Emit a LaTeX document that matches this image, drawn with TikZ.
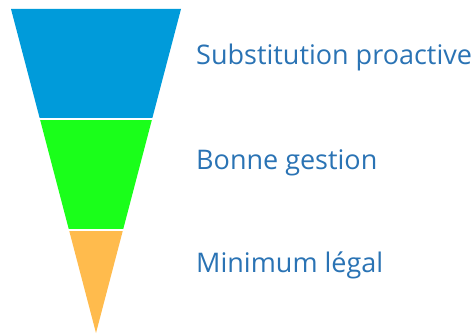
\documentclass[tikz,border=0pt]{standalone}
\usepackage{fontspec}
\setmainfont{Open Sans}
\usepackage{xcolor}
\definecolor{levelblue}{HTML}{009BDA}
\definecolor{levelgreen}{HTML}{1AFF1A}
\definecolor{levelorange}{HTML}{FFBB4D}
\definecolor{labelblue}{HTML}{2A73B4}

\begin{document}
\begin{tikzpicture}[
  x=1pt, y=-1pt,
  band/.style={draw=none},
  gap/.style={draw=white, line width=2.2pt},
  level/.style={anchor=base west, inner sep=0pt, text=labelblue,
    font=\fontsize{27}{31}\selectfont}
]
  \useasboundingbox (0,0) rectangle (476,334);

  % Funnel bands
  \fill[band, levelblue] (11,9) -- (181,9) -- (152.1,119) -- (39.9,119) -- cycle;
  \fill[band, levelgreen] (39.9,119) -- (152.1,119) -- (123,230) -- (69,230) -- cycle;
  \fill[band, levelorange] (69,230) -- (123,230) -- (96,333) -- cycle;

  % White separators
  \coordinate (g1l) at (30,119);
  \coordinate (g1r) at (162,119);
  \coordinate (g2l) at (60,230);
  \coordinate (g2r) at (132,230);
  \draw[gap] (g1l) -- (g1r);
  \draw[gap] (g2l) -- (g2r);

  % Labels
  \node[level] (top) at (196,65) {Substitution proactive};
  \node[level] (mid) at (196,169) {Bonne gestion};
  \node[level] (low) at (196,272) {Minimum légal};
\end{tikzpicture}
\end{document}
